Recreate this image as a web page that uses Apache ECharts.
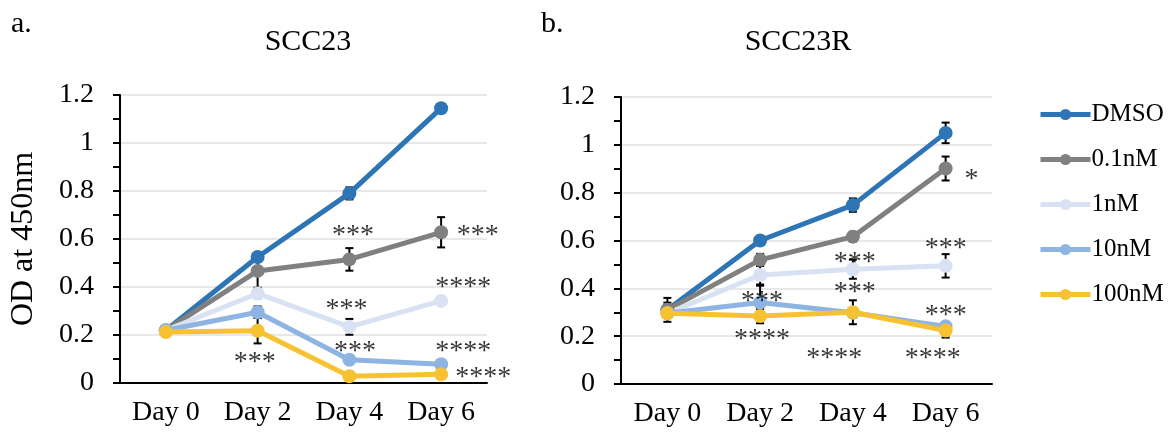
<!DOCTYPE html>
<html>
<head>
<meta charset="utf-8">
<script src="https://cdn.jsdelivr.net/npm/echarts@6/dist/echarts.min.js"></script>
<style>
  html, body { margin: 0; padding: 0; background: #fff; }
  #chart { width: 1174px; height: 436px; }
</style>
</head>
<body>
<div id="chart"></div>
<script>
// data
const days = ["Day 0", "Day 2", "Day 4", "Day 6"];
const doses = ["DMSO", "0.1nM", "1nM", "10nM", "100nM"];
const yTicks = [0, 0.2, 0.4, 0.6, 0.8, 1, 1.2];

// SCC23 (panel a) - one row per dose
const scc23Means = [
  [0.22, 0.525, 0.79, 1.145],
  [0.22, 0.467, 0.515, 0.628],
  [0.22, 0.373, 0.234, 0.342],
  [0.22, 0.295, 0.097, 0.078],
  [0.212, 0.218, 0.028, 0.036]
];
const scc23Errors = [
  [0, 0.012, 0.025, 0],
  [0, 0.07, 0.047, 0.063],
  [0, 0.02, 0.033, 0.012],
  [0, 0.024, 0.01, 0],
  [0, 0.053, 0, 0.012]
];
// [x position in day index units, y, text]
const scc23Stars = [
  [2.04, 0.637, "***"],
  [3.4, 0.64, "***"],
  [3.24, 0.424, "****"],
  [1.97, 0.331, "***"],
  [2.06, 0.154, "***"],
  [3.24, 0.154, "****"],
  [3.46, 0.046, "****"],
  [0.97, 0.111, "***"]
];

// SCC23R (panel b)
const scc23rMeans = [
  [0.31, 0.6, 0.748, 1.05],
  [0.31, 0.519, 0.616, 0.901],
  [0.296, 0.456, 0.48, 0.494],
  [0.296, 0.341, 0.298, 0.241],
  [0.296, 0.284, 0.3, 0.224]
];
const scc23rErrors = [
  [0.05, 0.015, 0.028, 0.043],
  [0.03, 0.025, 0.02, 0.05],
  [0.02, 0.04, 0.04, 0.049],
  [0.02, 0.07, 0.02, 0.015],
  [0.02, 0.03, 0.05, 0.03]
];
const scc23rStars = [
  [3.28, 0.88, "*"],
  [3.0, 0.591, "***"],
  [2.02, 0.533, "***"],
  [2.02, 0.405, "***"],
  [1.02, 0.369, "***"],
  [1.02, 0.21, "****"],
  [3.0, 0.31, "***"],
  [1.8, 0.132, "****"],
  [2.86, 0.132, "****"]
];

const colors = ["#2e75b6", "#808080", "#d9e2f3", "#8eb4e3", "#f7c232"];
const font = "Liberation Serif";

const myChart = echarts.init(document.getElementById("chart"));

function errRender(params, api) {
  const x = api.value(0);
  const m = api.value(1);
  const e = api.value(2);
  if (!e) return null;
  const top = api.coord([x, m + e]);
  const bot = api.coord([x, m - e]);
  const hw = 4;
  const st = { stroke: "#000", lineWidth: 2 };
  return {
    type: "group",
    children: [
      { type: "line", shape: { x1: top[0], y1: top[1], x2: bot[0], y2: bot[1] }, style: st },
      { type: "line", shape: { x1: top[0] - hw, y1: top[1], x2: top[0] + hw, y2: top[1] }, style: st },
      { type: "line", shape: { x1: bot[0] - hw, y1: bot[1], x2: bot[0] + hw, y2: bot[1] }, style: st }
    ]
  };
}

function catAxis(gi) {
  return {
    type: "category",
    gridIndex: gi,
    data: days,
    boundaryGap: true,
    axisLine: { onZero: false, lineStyle: { color: "#000", width: 2 } },
    axisTick: { alignWithLabel: true, length: 6, lineStyle: { color: "#000", width: 2 } },
    axisLabel: { color: "#000", fontFamily: font, fontSize: 28, margin: 16 }
  };
}

function hiddenAxis(gi) {
  return { type: "value", gridIndex: gi, min: -0.5, max: 3.5, show: false };
}

function valAxis(gi) {
  return {
    type: "value",
    gridIndex: gi,
    min: 0,
    max: 1.2,
    interval: 0.2,
    axisLine: { show: true, onZero: false, lineStyle: { color: "#000", width: 2 } },
    axisTick: { show: true, length: 7, lineStyle: { color: "#000", width: 2 } },
    minorTick: { show: true, splitNumber: 2, length: 7, lineStyle: { color: "#000", width: 2 } },
    splitLine: { lineStyle: { color: "#e0e0e0", width: 1.5 } },
    axisLabel: {
      color: "#000",
      fontFamily: font,
      fontSize: 28,
      margin: 26,
      formatter: v => String(yTicks.find(t => Math.abs(t - v) < 1e-6) ?? v)
    }
  };
}

function panelSeries(means, errors, stars, gi) {
  let out = [];
  means.forEach((row, k) => {
    out.push({
      name: doses[k],
      type: "line",
      xAxisIndex: gi,
      yAxisIndex: gi,
      data: row,
      color: colors[k],
      symbol: "circle",
      symbolSize: 14,
      lineStyle: { width: 5 },
      z: 3
    });
    out.push({
      name: "err-" + gi + "-" + k,
      type: "custom",
      xAxisIndex: gi,
      yAxisIndex: gi,
      renderItem: errRender,
      data: row.map((m, i) => [i, m, errors[k][i]]),
      z: 2,
      silent: true
    });
  });
  out.push({
    name: "stars-" + gi,
    type: "scatter",
    xAxisIndex: gi + 2,
    yAxisIndex: gi,
    symbolSize: 0,
    data: stars,
    z: 4,
    label: {
      show: true,
      position: "inside",
      offset: [0, 6],
      formatter: p => p.data[2],
      color: "#000",
      fontFamily: font,
      fontSize: 28
    }
  });
  return out;
}

const titleStyle = { fontFamily: font, fontSize: 30, fontWeight: "normal", color: "#000" };

let option = {
  backgroundColor: "#fff",
  animation: false,
  title: [
    { text: "a.", left: 6, top: 4, textStyle: titleStyle },
    { text: "b.", left: 536, top: 4, textStyle: titleStyle },
    { text: "SCC23", left: 303, top: 22, textAlign: "center", textStyle: titleStyle },
    { text: "SCC23R", left: 793, top: 22, textAlign: "center", textStyle: titleStyle }
  ],
  legend: {
    data: doses,
    orient: "vertical",
    left: 1033,
    top: 97,
    itemWidth: 50,
    itemHeight: 14,
    itemGap: 20,
    lineStyle: { width: 5 },
    textStyle: { fontFamily: font, fontSize: 25, color: "#000", padding: [0, 0, 0, -4] }
  },
  grid: [
    { left: 120, top: 95, width: 367, height: 288, outerBoundsMode: "none" },
    { left: 621, top: 97, width: 371, height: 287, outerBoundsMode: "none" }
  ],
  xAxis: [catAxis(0), catAxis(1), hiddenAxis(0), hiddenAxis(1)],
  yAxis: [
    Object.assign(valAxis(0), {
      name: "OD at 450nm",
      nameLocation: "middle",
      nameGap: 80,
      nameTextStyle: { fontFamily: font, fontSize: 32, color: "#000" }
    }),
    valAxis(1)
  ],
  series: [
    ...panelSeries(scc23Means, scc23Errors, scc23Stars, 0),
    ...panelSeries(scc23rMeans, scc23rErrors, scc23rStars, 1)
  ]
};
myChart.setOption(option);
</script>
</body>
</html>
